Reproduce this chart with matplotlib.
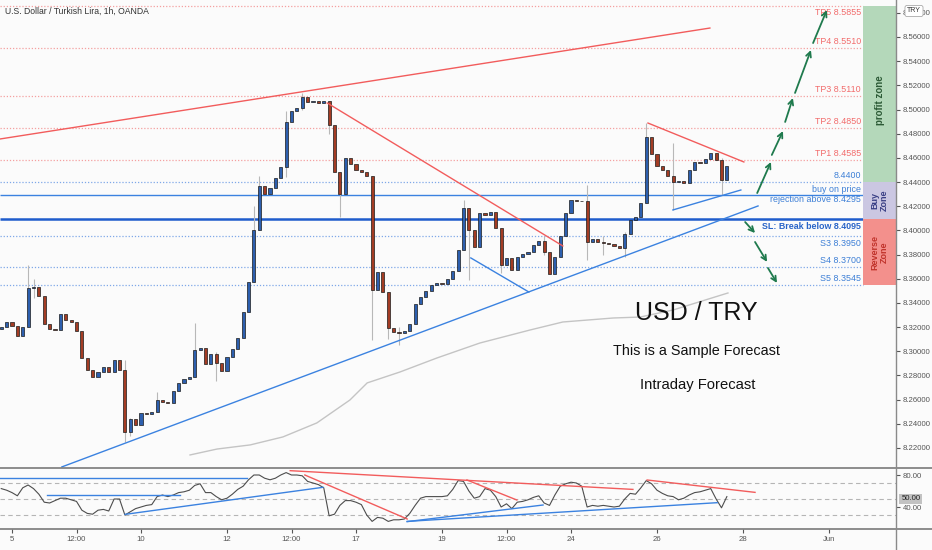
import numpy as np
import matplotlib
matplotlib.use('Agg')
import matplotlib.pyplot as plt
from matplotlib.patches import Rectangle
from matplotlib.lines import Line2D
import matplotlib.transforms as mtransforms

plt.rcParams['font.family'] = ['Liberation Sans', 'DejaVu Sans']

# x axis unit = trading day, 0 = May 5 00:00; one bar = 3 hours
bar_start = -0.25
bar_step = 0.125
open_first = 8.3180

closes = [
    8.3201, 8.3242, 8.3209, 8.3126, 8.3201, 8.3523, 8.3532, 8.3457, 8.3226, 8.3184,
    8.3176, 8.3308, 8.3259, 8.3242, 8.3168, 8.2944, 8.2845, 8.2787, 8.2828, 8.2870,
    8.2828, 8.2928, 8.2845, 8.2332, 8.2440, 8.2390, 8.2489, 8.2478, 8.2495, 8.2597,
    8.2580, 8.2572, 8.2671, 8.2737, 8.2771, 8.2787, 8.3010, 8.3027, 8.2895, 8.2977,
    8.2903, 8.2837, 8.2953, 8.3019, 8.3110, 8.3325, 8.3573, 8.4003, 8.4367, 8.4301,
    8.4351, 8.4433, 8.4524, 8.4897, 8.4988, 8.5013, 8.5104, 8.5062, 8.5070, 8.5054,
    8.5071, 8.4872, 8.4483, 8.4301, 8.4599, 8.4549, 8.4500, 8.4483, 8.4450, 8.3507,
    8.3656, 8.3490, 8.3193, 8.3160, 8.3151, 8.3168, 8.3226, 8.3391, 8.3449, 8.3499,
    8.3548, 8.3565, 8.3559, 8.3598, 8.3664, 8.3838, 8.4185, 8.4003, 8.3863, 8.4144,
    8.4131, 8.4150, 8.4020, 8.3714, 8.3772, 8.3672, 8.3780, 8.3805, 8.3821, 8.3879,
    8.3912, 8.3821, 8.3639, 8.3780, 8.3954, 8.4144, 8.4252, 8.4240, 8.4243, 8.3904,
    8.3929, 8.3904, 8.3896, 8.3887, 8.3871, 8.3854, 8.3970, 8.4086, 8.4111, 8.4227,
    8.4773, 8.4632, 8.4533, 8.4500, 8.4450, 8.4400, 8.4409, 8.4392, 8.4500, 8.4566,
    8.4555, 8.4591, 8.4640, 8.4582, 8.4417, 8.4533,
]

# long wicks: bar index -> (low, high)
wicks = {
    5: (8.3450, 8.3714), 6: (8.3440, 8.3600), 23: (8.2250, 8.2930), 24: (8.2300, 8.2450),
    29: (8.2540, 8.2660), 36: (8.2900, 8.3234), 40: (8.2750, 8.2990), 47: (8.3600, 8.4200),
    48: (8.4000, 8.4450), 53: (8.4440, 8.4990), 56: (8.5000, 8.5137), 61: (8.4800, 8.5060),
    63: (8.4111, 8.4480), 69: (8.3093, 8.4450), 72: (8.3100, 8.3480), 74: (8.3052, 8.3200),
    86: (8.3900, 8.4250), 87: (8.3590, 8.4180), 93: (8.3650, 8.4020), 101: (8.3800, 8.3950),
    109: (8.3755, 8.4376), 112: (8.3800, 8.3950), 116: (8.3780, 8.3990), 120: (8.4227, 8.4888),
    125: (8.4169, 8.4723), 134: (8.4293, 8.4600),
}

rsi = [
    63, 61, 58, 54, 64, 67.5, 63, 56, 46, 45,
    48, 51, 51, 49, 47, 36, 32, 31, 36, 37,
    35, 50, 50, 30, 34, 38, 40, 42, 43, 53,
    55, 53, 55, 58, 59, 61, 67, 69, 58, 58,
    53, 49, 51, 56, 62, 66, 74, 80, 80, 76,
    74, 76, 80, 83, 80, 80, 79, 72, 70, 68,
    64, 29, 31, 42, 48, 48, 46, 43, 30, 22,
    27, 26, 22, 24, 24, 25, 32, 42, 51, 53,
    53, 53, 53, 54, 62, 73, 72, 60, 51, 53,
    63, 61, 53, 40, 44, 38, 46, 47, 49, 52,
    54, 45, 42, 55, 66, 69, 71, 70, 66, 40,
    42, 41, 42, 41, 40, 41, 50, 57, 56, 64,
    73, 69, 61, 57, 54, 53, 49, 51, 55, 58,
    59, 61, 63, 50, 39, 53,
]

# slow moving average (grey curve)
ma_x = [4.14, 4.77, 5.54, 6.30, 7.09, 7.86, 8.26, 9.02, 9.88, 10.88, 12.05, 12.81, 13.98, 14.61, 15.37, 16.65]
ma_y = [8.2142, 8.2191, 8.2225, 8.2291, 8.2407, 8.2597, 8.2738, 8.2828, 8.2944, 8.3068,
        8.3176, 8.3242, 8.3275, 8.3283, 8.3341, 8.3482]

tp_names = ['TP1', 'TP2', 'TP3', 'TP4', 'TP5']
tp_levels = [8.4585, 8.4850, 8.5110, 8.5510, 8.5855]
s_names = ['S3', 'S4', 'S5']
s_levels = [8.3950, 8.3700, 8.3545]
buy_level = 8.4400
rejection_level = 8.4295
sl_level = 8.4095

red_trends = [((-0.28, 8.4756), (16.23, 8.5674)),
              ((7.33, 8.5054), (12.81, 8.3871)),
              ((14.79, 8.4888), (17.02, 8.4566))]
blue_trends = [((1.16, 8.2043), (17.35, 8.4202)),
               ((10.67, 8.3772), (12.02, 8.3490)),
               ((15.37, 8.4169), (16.95, 8.4334))]

rsi_red = [((6.47, 85.4), (14.44, 62.0)), ((6.81, 80.0), (9.19, 25.0)),
           ((10.58, 73.75), (11.74, 48.75)), ((14.77, 73.75), (17.28, 58.3))]
rsi_blue = [((-0.28, 76.7), (5.47, 76.7)), ((0.81, 55.0), (3.91, 55.0)),
            ((2.63, 30.8), (7.23, 64.6)), ((9.19, 21.7), (12.35, 42.5)),
            ((9.19, 22.0), (16.40, 45.4))]

up_arrows = [((17.33, 8.4309), (17.65, 8.4566)), ((17.67, 8.4624), (17.93, 8.4822)),
             ((17.98, 8.4897), (18.16, 8.5095)), ((18.21, 8.5137), (18.58, 8.5492)),
             ((18.63, 8.5550), (18.95, 8.5823))]
down_arrows = [((17.05, 8.4069), (17.28, 8.3978)), ((17.28, 8.3904), (17.56, 8.3739)),
               ((17.58, 8.3689), (17.79, 8.3565))]

date_ticks = [0, 1.5, 3, 5, 6.5, 8, 10, 11.5, 13, 15, 17, 19]
date_labels = ['5', '12:00', '10', '12', '12:00', '17', '19', '12:00', '24', '26', '28', 'Jun']

bg = '#fbfbfb'
red = '#f25c5c'
blue = '#3b82e0'
tp_col = '#f26b6b'
lab_blue = '#3d7fd6'
arrow_col = '#1f7a4d'
lab_fs = 6.4

W, H = 932, 550
fig = plt.figure(figsize=(W / 100, H / 100), dpi=100)
fig.patch.set_facecolor(bg)
ax = fig.add_axes([0, 1 - 468 / H, 896 / W, 468 / H])
ax2 = fig.add_axes([0, 1 - 529 / H, 896 / W, 61 / H], sharex=ax)
for a in (ax, ax2):
    a.set_facecolor(bg)
    for s in a.spines.values():
        s.set_visible(False)

xmin, xmax = -12 / 43, 884 / 43
ax.set_xlim(xmin, xmax)
ax.set_ylim(8.2034, 8.5906)
ax2.set_ylim(12.5, 88.75)

zone_x0 = 851 / 43
label_x = 849 / 43

# horizontal levels
for lvl in tp_levels:
    ax.hlines(lvl, xmin, zone_x0, colors='#f4a0a0', linestyles=(0, (1, 1.5)), lw=0.9, zorder=1)
for lvl in [buy_level] + s_levels:
    ax.hlines(lvl, xmin, zone_x0, colors='#7fa8e8', linestyles=(0, (1, 1.5)), lw=0.9, zorder=1)
ax.hlines(rejection_level, xmin, zone_x0, colors=blue, lw=1.0, zorder=1)
ax.hlines(sl_level, xmin, zone_x0, colors='#1f5ccc', lw=1.8, zorder=1)

# grey moving average
ax.plot(ma_x, ma_y, color='#c4c4c4', lw=1.0, zorder=1)

# candles
xs = bar_start + bar_step * np.arange(len(closes))
opens = [open_first] + closes[:-1]
for k, (x, o, c) in enumerate(zip(xs, opens, closes)):
    if k in wicks:
        lo, hi = wicks[k]
        ax.vlines(x, min(lo, o, c), max(hi, o, c), colors='#b8b8b8', lw=0.8, zorder=2)
    col = '#2d5fae' if c >= o else '#a33c24'
    ax.bar(x, c - o, bottom=o, width=0.075, color=col, edgecolor='#1a1a1a', lw=0.5, zorder=3)

# trend lines
for (x0, y0), (x1, y1) in red_trends:
    ax.plot([x0, x1], [y0, y1], color=red, lw=1.0, zorder=4)
for (x0, y0), (x1, y1) in blue_trends:
    ax.plot([x0, x1], [y0, y1], color=blue, lw=1.0, zorder=4)

# zones on the right
ax.add_patch(Rectangle((zone_x0, buy_level), xmax - zone_x0, tp_levels[-1] - buy_level,
                       facecolor='#b4d8ba', edgecolor='none', zorder=5))
ax.add_patch(Rectangle((zone_x0, sl_level), xmax - zone_x0, buy_level - sl_level,
                       facecolor='#cbc7e2', edgecolor='none', zorder=5))
ax.add_patch(Rectangle((zone_x0, s_levels[-1]), xmax - zone_x0, sl_level - s_levels[-1],
                       facecolor='#f3908c', edgecolor='none', zorder=5))
zc = (zone_x0 + xmax) / 2
ax.text(zc, 8.508, 'profit zone', rotation=90, ha='center', va='center',
        fontsize=7, fontweight='bold', color='#2c5a36', zorder=6)
ax.text(zc, 8.4250, 'Buy\nZone', rotation=90, ha='center', va='center', linespacing=0.95,
        fontsize=6.5, fontweight='bold', color='#3a3f85', zorder=6)
ax.text(zc, 8.3821, 'Reverse\nZone', rotation=90, ha='center', va='center', linespacing=0.95,
        fontsize=6.5, fontweight='bold', color='#c0332b', zorder=6)

# level labels
for name, lvl, dy in zip(tp_names, tp_levels, [1.5, 1.5, 1.5, 1.5, -1.2]):
    ax.annotate(f'{name} {lvl:.4f}', (label_x, lvl), xytext=(0, dy), textcoords='offset points',
                ha='right', va='top' if dy < 0 else 'bottom', fontsize=lab_fs, color=tp_col, zorder=6)
ax.annotate(f'{buy_level:.4f}', (label_x, buy_level), xytext=(0, 1.5), textcoords='offset points',
            ha='right', va='bottom', fontsize=lab_fs, color=lab_blue, zorder=6)
ax.annotate('buy on price', (label_x, rejection_level), xytext=(0, 0.3), textcoords='offset points',
            ha='right', va='bottom', fontsize=lab_fs, color=lab_blue, zorder=6)
ax.annotate(f'rejection above {rejection_level:.4f}', (label_x, rejection_level), xytext=(0, -0.3),
            textcoords='offset points', ha='right', va='top', fontsize=lab_fs, color=lab_blue, zorder=6)
ax.annotate(f'SL: Break below {sl_level:.4f}', (label_x, sl_level), xytext=(0, -2),
            textcoords='offset points', ha='right', va='top', fontsize=lab_fs, fontweight='bold',
            color='#2a65c8', zorder=6)
for name, lvl, dy in zip(s_names, s_levels, [-2, 1.5, 1.5]):
    ax.annotate(f'{name} {lvl:.4f}', (label_x, lvl), xytext=(0, dy), textcoords='offset points',
                ha='right', va='top' if dy < 0 else 'bottom', fontsize=lab_fs, color=lab_blue, zorder=6)

# forecast arrows
for (x0, y0), (x1, y1) in up_arrows + down_arrows:
    ax.annotate('', xy=(x1, y1), xytext=(x0, y0),
                arrowprops=dict(arrowstyle='->', color=arrow_col, lw=1.3, mutation_scale=9,
                                shrinkA=0, shrinkB=0), zorder=7)

# headline text
ax.text(15.91, 8.3317, 'USD / TRY', ha='center', va='center', fontsize=18, color='#111')
ax.text(15.91, 8.3002, 'This is a Sample Forecast', ha='center', va='center', fontsize=10.4, color='#111')
ax.text(15.95, 8.2721, 'Intraday Forecast', ha='center', va='center', fontsize=10.6, color='#111')

# price axis
ax.yaxis.tick_right()
ax.set_yticks(np.arange(8.22, 8.5801, 0.02))
ax.yaxis.set_major_formatter(plt.FormatStrFormatter('%.5f'))
ax.tick_params(axis='y', labelsize=5.6, colors='#555555', length=3, pad=2)
ax.tick_params(axis='x', bottom=False, labelbottom=False)

# RSI panel
for lvl in (70, 50, 30):
    ax2.axhline(lvl, color='#b5b5b5', lw=0.8, ls=(0, (4, 3)), zorder=1)
for (x0, y0), (x1, y1) in rsi_red:
    ax2.plot([x0, x1], [y0, y1], color=red, lw=1.0, zorder=3)
for (x0, y0), (x1, y1) in rsi_blue:
    ax2.plot([x0, x1], [y0, y1], color=blue, lw=1.0, zorder=3)
ax2.plot(xs, rsi, color='#4d4d4d', lw=0.8, zorder=2)
ax2.yaxis.tick_right()
ax2.set_yticks([40, 80])
ax2.set_yticklabels(['40.00', '80.00'])
ax2.tick_params(axis='y', labelsize=5.6, colors='#555555', length=3, pad=2)
trans = mtransforms.blended_transform_factory(ax2.transAxes, ax2.transData)
ax2.text(1.006, 50, '50.00', transform=trans, ha='left', va='center', fontsize=5.6, color='#222',
         bbox=dict(boxstyle='square,pad=0.25', fc='#c2c2c2', ec='none'), zorder=8)
ax2.set_xticks(date_ticks)
ax2.set_xticklabels(date_labels)
ax2.tick_params(axis='x', labelsize=5.6, colors='#555555', length=3, pad=2)

# frame lines
for yy in (468, 529):
    fig.add_artist(Line2D([0, 1], [1 - yy / H, 1 - yy / H], transform=fig.transFigure,
                          color='#7a7a7a', lw=1.2))
fig.add_artist(Line2D([896 / W, 896 / W], [0, 1], transform=fig.transFigure, color='#8a8a8a', lw=1.0))

fig.text(5 / W, 1 - 11 / H, 'U.S. Dollar / Turkish Lira, 1h, OANDA', fontsize=6.2, va='center', color='#333')
fig.text(914 / W, 1 - 11 / H, 'TRY', fontsize=5, ha='center', va='center', color='#333', zorder=10,
         bbox=dict(boxstyle='round,pad=0.3', fc='white', ec='#aaaaaa', lw=0.6))

fig.savefig('out.png', dpi=100, facecolor=bg)
